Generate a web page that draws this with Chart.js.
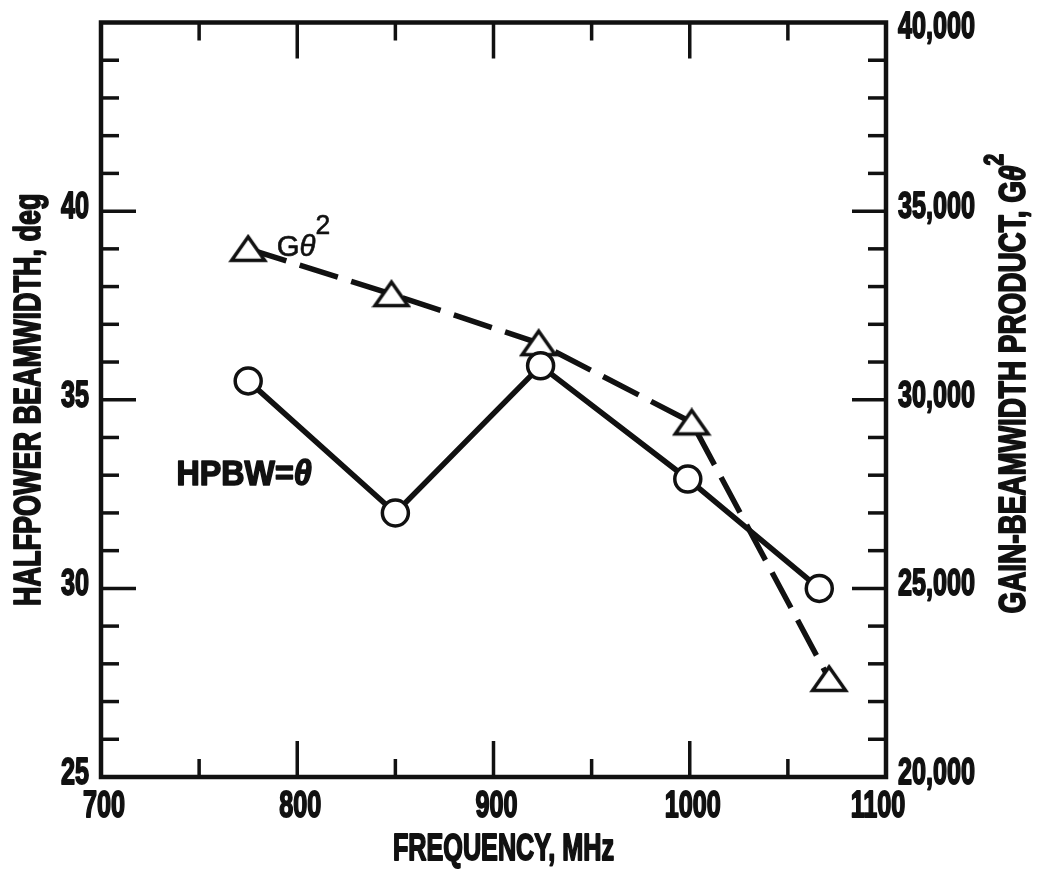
<!DOCTYPE html>
<html>
<head>
<meta charset="utf-8">
<style>
  html, body { margin: 0; padding: 0; background: #fff; }
  #wrap { width: 1038px; height: 873px; }
</style>
</head>
<body>
<div id="wrap"><canvas id="chart"></canvas></div>

<script src="https://cdn.jsdelivr.net/npm/chart.js"></script>

<script>
  const FONT = '"Liberation Sans", Arial, sans-serif';
  const INK = '#111';

  const hpbwFreq = [775, 850, 924, 999, 1066];
  const hpbwDeg = [35.5, 32.0, 35.9, 32.9, 30.0];
  const gainFreq = [775, 848, 923, 1001, 1071];
  const gainProduct = [34000, 32800, 31500, 29400, 22600];

  // tick labels
  const xTickLabels = ['700', '800', '900', '1000', '1100'];
  const leftTickLabels = ['25', '30', '35', '40'];
  const rightTickLabels = ['20,000', '25,000', '30,000', '35,000', '40,000'];

  const ctx = document.getElementById('chart').getContext('2d');

  const bold = s => 'bold ' + s + 'px ' + FONT;
  const boldIt = s => 'italic bold ' + s + 'px ' + FONT;
  const plain = s => s + 'px ' + FONT;
  const it = s => 'italic ' + s + 'px ' + FONT;

  // draw a run of text pieces [text, font, dy], squeezed sideways like the
  // condensed lettering of the original, with a thin outline to thicken it
  function drawRun(ctx, pieces, x, y, align, rot, sx, heavy) {
    ctx.save();
    ctx.translate(x, y);
    if (rot) ctx.rotate(rot);
    ctx.scale(sx, 1);
    let total = 0;
    pieces.forEach(p => { ctx.font = p[1]; total += ctx.measureText(p[0]).width; });
    let cx = align === 'center' ? -total / 2 : align === 'right' ? -total : 0;
    ctx.textAlign = 'left';
    ctx.lineJoin = 'round';
    ctx.strokeStyle = INK;
    ctx.lineWidth = heavy || 0;
    pieces.forEach(p => {
      ctx.font = p[1];
      ctx.fillText(p[0], cx, p[2] || 0);
      if (heavy) ctx.strokeText(p[0], cx, p[2] || 0);
      cx += ctx.measureText(p[0]).width;
    });
    ctx.restore();
  }

  // flat open triangle marker
  function triangleMarker() {
    const c = document.createElement('canvas');
    c.width = 40; c.height = 30;
    const g = c.getContext('2d');
    g.lineWidth = 3.5;
    g.lineJoin = 'miter';
    g.strokeStyle = INK;
    g.fillStyle = '#fff';
    g.beginPath();
    g.moveTo(20, 3); g.lineTo(36.5, 26.5); g.lineTo(3.5, 26.5); g.closePath();
    g.fill(); g.stroke();
    return c;
  }

  // frame, inward tick marks and tick labels, all placed by the chart scales
  const frame = {
    id: 'frame',
    afterDatasetsDraw(chart) {
      const { ctx, chartArea: a, scales } = chart;
      const tf = bold(36);
      ctx.save();
      ctx.strokeStyle = INK;
      ctx.fillStyle = INK;
      ctx.lineCap = 'butt';
      ctx.textBaseline = 'middle';

      scales.x.ticks.forEach(t => {
        const px = scales.x.getPixelForValue(t.value);
        const lab = String(t.value);
        if (xTickLabels.includes(lab)) {
          const dx = px >= a.right - 2 ? -8 : 3;
          drawRun(ctx, [[lab, tf]], px + dx, a.bottom + 30, 'center', 0, 0.7, 1.8);
        }
        if (px <= a.left + 2 || px >= a.right - 2) return;
        const len = t.value % 100 === 0 ? 36 : 18;
        ctx.lineWidth = 3.5;
        ctx.beginPath();
        ctx.moveTo(px, a.bottom); ctx.lineTo(px, a.bottom - len);
        ctx.moveTo(px, a.top); ctx.lineTo(px, a.top + len);
        ctx.stroke();
      });
      scales.y.ticks.forEach(t => {
        const py = scales.y.getPixelForValue(t.value);
        const lab = String(t.value);
        if (leftTickLabels.includes(lab)) drawRun(ctx, [[lab, tf]], a.left - 12, py - 3, 'right', 0, 0.7, 1.8);
        if (py <= a.top + 2 || py >= a.bottom - 2) return;
        const len = t.value % 5 === 0 ? 35 : 18;
        ctx.lineWidth = 3.5;
        ctx.beginPath();
        ctx.moveTo(a.left, py); ctx.lineTo(a.left + len, py);
        ctx.stroke();
      });
      scales.y2.ticks.forEach(t => {
        const py = scales.y2.getPixelForValue(t.value);
        const lab = t.value.toLocaleString('en-US');
        if (rightTickLabels.includes(lab)) {
          const dy = py < a.top + 5 ? 6 : -3;
          drawRun(ctx, [[lab, tf]], a.right + 12, py + dy, 'left', 0, 0.7, 1.8);
        }
        if (py <= a.top + 2 || py >= a.bottom - 2) return;
        const len = t.value % 5000 === 0 ? 34 : 18;
        ctx.lineWidth = 3.5;
        ctx.beginPath();
        ctx.moveTo(a.right, py); ctx.lineTo(a.right - len, py);
        ctx.stroke();
      });

      ctx.lineWidth = 4.5;
      ctx.strokeRect(a.left, a.top, a.right - a.left, a.bottom - a.top);
      ctx.restore();
    }
  };

  const labels = {
    id: 'labels',
    afterDraw(chart) {
      const { ctx, chartArea: a, scales } = chart;
      const midY = (a.top + a.bottom) / 2;
      ctx.save();
      ctx.fillStyle = INK;
      ctx.textBaseline = 'middle';

      drawRun(ctx, [['FREQUENCY, MHz', bold(36)]], (a.left + a.right) / 2 + 10, 850, 'center', 0, 0.7, 1.8);
      drawRun(ctx, [['HALFPOWER BEAMWIDTH, deg', bold(36)]], 30, midY, 'center', -Math.PI / 2, 0.75, 1.8);
      drawRun(ctx, [
        ['GAIN-BEAMWIDTH PRODUCT, G', bold(36)],
        ['\u03b8', boldIt(36)],
        ['2', bold(27), -19]
      ], 1015, midY - 16, 'center', -Math.PI / 2, 0.775, 1.8);

      // curve labels
      ctx.textBaseline = 'alphabetic';
      drawRun(ctx, [['HPBW', bold(35)], ['=', bold(35)], ['\u03b8', boldIt(35)]],
        scales.x.getPixelForValue(738.5), scales.y.getPixelForValue(32.75), 'left', 0, 0.92, 1.6);
      drawRun(ctx, [['G', plain(30)], ['\u03b8', it(30)], ['2', plain(27), -22]],
        scales.x.getPixelForValue(789.5), scales.y2.getPixelForValue(33800), 'left', 0, 0.98, 0.6);
      ctx.restore();
    }
  };

  new Chart(ctx, {
    type: 'line',
    data: {
      datasets: [
        {
          label: 'HPBW',
          data: hpbwFreq.map((f, i) => ({ x: f, y: hpbwDeg[i] })),
          yAxisID: 'y',
          borderColor: INK,
          borderWidth: 5.5,
          pointStyle: 'circle',
          pointRadius: 13,
          pointBorderWidth: 3.5,
          pointBackgroundColor: '#fff',
          pointBorderColor: INK,
          tension: 0
        },
        {
          label: 'G theta^2',
          data: gainFreq.map((f, i) => ({ x: f, y: gainProduct[i] })),
          yAxisID: 'y2',
          borderColor: INK,
          borderWidth: 5.5,
          borderDash: [40, 14],
          pointStyle: triangleMarker(),
          pointRadius: 17,
          tension: 0
        }
      ]
    },
    options: {
      responsive: true,
      maintainAspectRatio: false,
      animation: false,
      layout: { padding: { top: 19 } },
      plugins: { legend: { display: false }, tooltip: { enabled: false } },
      scales: {
        x: {
          type: 'linear',
          min: 700,
          max: 1100,
          afterFit: s => { s.height = 873 - 777; },
          grid: { display: false, drawTicks: false },
          border: { display: false },
          ticks: { stepSize: 50, autoSkip: false, display: false }
        },
        y: {
          position: 'left',
          min: 25,
          max: 45,
          afterFit: s => { s.width = 101; },
          grid: { display: false, drawTicks: false },
          border: { display: false },
          ticks: { stepSize: 1, autoSkip: false, display: false }
        },
        y2: {
          position: 'right',
          min: 20000,
          max: 40000,
          afterFit: s => { s.width = 1038 - 886; },
          grid: { display: false, drawTicks: false },
          border: { display: false },
          ticks: { stepSize: 1000, autoSkip: false, display: false }
        }
      }
    },
    plugins: [frame, labels]
  });
</script>
</body>
</html>
